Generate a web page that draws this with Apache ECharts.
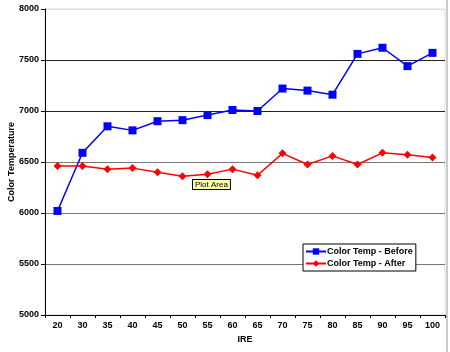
<!DOCTYPE html>
<html>
<head>
<meta charset="utf-8">
<script src="https://cdn.jsdelivr.net/npm/echarts@6/dist/echarts.min.js"></script>
<style>
  html, body { margin: 0; padding: 0; background: #fff; }
  #main { width: 450px; height: 352px; }
</style>
</head>
<body>
<div id="main"></div>
<script>
var ire = ['20','30','35','40','45','50','55','60','65','70','75','80','85','90','95','100'];
var before = [6020, 6590, 6850, 6810, 6900, 6910, 6960, 7010, 7000, 7220, 7200, 7160, 7560, 7620, 7440, 7570];
var after = [6460, 6460, 6430, 6440, 6400, 6360, 6380, 6430, 6370, 6585, 6475, 6560, 6475, 6590, 6570, 6545];

var myChart = echarts.init(document.getElementById('main'));
var font = 'Liberation Sans, Arial, sans-serif';
var option = {
  animation: false,
  textStyle: { fontFamily: font },
  grid: { left: 45, right: 5, top: 9, bottom: 37, outerBoundsMode: 'none', containLabel: false,
    show: true, borderColor: '#ddd', borderWidth: 1 },
  legend: {
    orient: 'vertical',
    left: 303, top: 244,
    padding: [3, 3, 3, 2],
    itemGap: 3,
    itemWidth: 20, itemHeight: 8,
    borderColor: '#000', borderWidth: 1,
    backgroundColor: '#fff',
    textStyle: { fontSize: 9, fontWeight: 'bold', color: '#000', fontFamily: font, padding: [0, 0, 0, -4] },
    data: ['Color Temp - Before', 'Color Temp - After']
  },
  xAxis: {
    type: 'category',
    data: ire,
    name: 'IRE',
    nameLocation: 'middle',
    nameGap: 20,
    nameMoveOverlap: false,
    nameTextStyle: { fontSize: 9, fontWeight: 'bold', color: '#000' },
    axisLine: { lineStyle: { color: '#000', width: 1 } },
    axisTick: { show: true, length: 3, lineStyle: { color: '#000' } },
    axisLabel: { fontSize: 9, fontWeight: 'bold', color: '#000', margin: 6 }
  },
  yAxis: {
    type: 'value',
    min: 5000, max: 8000, interval: 500,
    name: 'Color Temperature',
    nameLocation: 'middle',
    nameGap: 29,
    nameMoveOverlap: false,
    nameTextStyle: { fontSize: 9, fontWeight: 'bold', color: '#000' },
    axisLine: { show: true, lineStyle: { color: '#000', width: 1 } },
    axisTick: { show: true, length: 4, lineStyle: { color: '#000' } },
    axisLabel: { fontSize: 9, fontWeight: 'bold', color: '#000', margin: 6,
      formatter: function (v) { return String(v); } },
    splitLine: { show: true, lineStyle: { color: ['#000', '#777', '#777', '#777', '#222', '#222', '#ddd'], width: 1 } }
  },
  series: [
    {
      name: 'Color Temp - Before',
      type: 'line',
      data: before,
      symbol: 'rect',
      symbolSize: 8,
      color: '#0000ff',
      lineStyle: { color: '#0000ff', width: 1.5 },
      itemStyle: { color: '#0000ff' }
    },
    {
      name: 'Color Temp - After',
      type: 'line',
      data: after,
      symbol: 'diamond',
      symbolSize: 8,
      color: '#ff0000',
      lineStyle: { color: '#ff0000', width: 1.5 },
      itemStyle: { color: '#ff0000' }
    }
  ],
  graphic: [
    {
      type: 'line', z: 10,
      shape: { x1: 447, y1: 0, x2: 447, y2: 352 },
      style: { stroke: '#ccc', lineWidth: 2 }
    },
    {
      type: 'text', z: 20,
      left: 192, top: 179,
      style: {
        text: 'Plot Area',
        fontSize: 8, fontFamily: font, fill: '#000',
        backgroundColor: '#ffffb0',
        borderColor: '#000', borderWidth: 1,
        padding: [1, 2, 0, 2]
      }
    }
  ]
};
myChart.setOption(option);
</script>
</body>
</html>
